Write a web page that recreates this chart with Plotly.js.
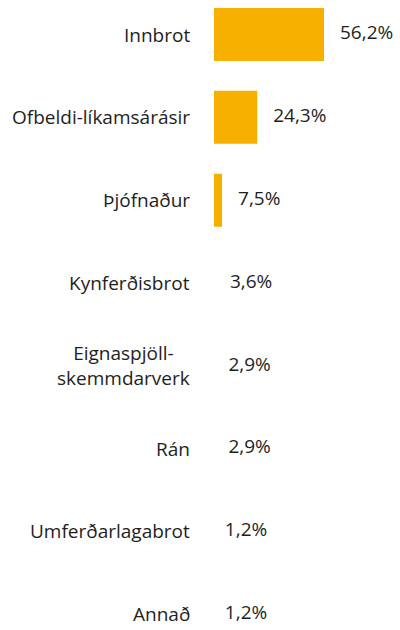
<!DOCTYPE html>
<html>
<head>
<meta charset="utf-8">
<script src="https://cdn.plot.ly/plotly-3.0.1.min.js"></script>
<style>html,body{margin:0;padding:0;background:#fff;}#chart{width:400px;height:630px;}</style>
</head>
<body>
<div id="chart"></div>
<script>
var categories = ["Innbrot", "Ofbeldi-líkamsárásir", "Þjófnaður", "Kynferðisbrot", "Eignaspjöll-<br>skemmdarverk", "Rán", "Umferðarlagabrot", "Annað"];
var values = [56.2, 24.3, 7.5, 3.6, 2.9, 2.9, 1.2, 1.2];
var valueLabels = ["56,2%", "24,3%", "7,5%", "3,6%", "2,9%", "2,9%", "1,2%", "1,2%"];

var FONT = "Open Sans, Noto Sans, sans-serif";
var barColor = "#F8B000";
var textColor = "#1e1e1e";

var W = 400, H = 630, L = 214;
var xMin = 3.65, xMax = 92.5;
var domStart = L / W;
// second axis spanning the full width with the same value-to-pixel mapping
var x2Min = xMin - L * (xMax - xMin) / (W - L);

var bars = {
  type: "bar",
  orientation: "h",
  y: categories,
  x: values,
  xaxis: "x",
  yaxis: "y",
  marker: {color: barColor},
  hoverinfo: "none",
  cliponaxis: true
};

var labels = {
  type: "scatter",
  mode: "markers+text",
  y: categories,
  x: values,
  xaxis: "x2",
  yaxis: "y",
  text: valueLabels,
  textposition: "middle right",
  textfont: {family: FONT, size: 19, color: textColor},
  marker: {size: 24, color: "rgba(0,0,0,0)"},
  cliponaxis: false,
  hoverinfo: "none"
};

var annotations = categories.map(function(c) {
  return {
    xref: "paper", yref: "y",
    x: domStart, y: c,
    xanchor: "right", yanchor: "middle",
    xshift: -22,
    align: "center",
    text: c,
    showarrow: false,
    font: {family: FONT, size: 19, color: textColor}
  };
});

var layout = {
  width: W, height: H,
  margin: {l: 0, r: 0, t: 0, b: 0, pad: 0},
  paper_bgcolor: "#ffffff",
  plot_bgcolor: "rgba(0,0,0,0)",
  showlegend: false,
  bargap: 0.36,
  xaxis: {domain: [domStart, 1], range: [xMin, xMax], visible: false, fixedrange: true, anchor: "y"},
  xaxis2: {domain: [0, 1], range: [x2Min, xMax], visible: false, fixedrange: true, anchor: "y"},
  yaxis: {
    type: "category",
    categoryorder: "array",
    categoryarray: categories,
    range: [7.19, -0.417],
    showticklabels: false,
    showgrid: false,
    zeroline: false,
    showline: false,
    fixedrange: true,
    anchor: "x"
  },
  annotations: annotations,
  font: {family: FONT}
};

Plotly.newPlot("chart", [bars, labels], layout, {displayModeBar: false, staticPlot: true});
</script>
</body>
</html>
